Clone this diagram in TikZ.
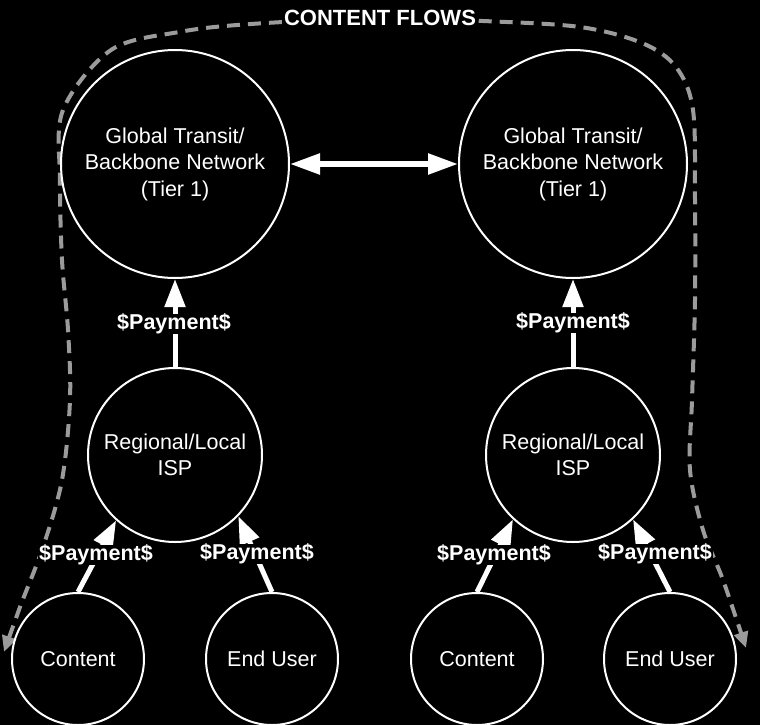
\documentclass[tikz,border=0pt]{standalone}
\usepackage{fontspec}
\setmainfont{Liberation Sans}
\usetikzlibrary{arrows.meta}
\definecolor{flowgray}{RGB}{155,155,155}
\begin{document}
\begin{tikzpicture}[x=1pt,y=-1pt,
  bignode/.style={circle,draw=white,line width=2pt,minimum size=228pt,inner sep=0pt,text=white,align=center,font=\fontsize{21.5}{26.5}\selectfont},
  regnode/.style={circle,draw=white,line width=2pt,minimum size=174pt,inner sep=0pt,text=white,align=center,font=\fontsize{21.5}{26.5}\selectfont},
  smallnode/.style={circle,draw=white,line width=2pt,minimum size=132pt,inner sep=0pt,text=white,align=center,font=\fontsize{21.5}{26.5}\selectfont},
  pay/.style={draw=white,line width=5pt,-{Triangle[width=20pt,length=28pt]}},
  paylabel/.style={fill=black,text=white,inner xsep=1pt,inner ysep=0pt,font=\fontsize{21.5}{24}\selectfont\bfseries},
  peer/.style={draw=white,line width=5.5pt,{Triangle[width=20pt,length=30pt]}-{Triangle[width=20pt,length=30pt]}},
  flow/.style={draw=flowgray,line width=4pt,dash pattern=on 13pt off 8pt,{Triangle[width=14pt,length=16pt]}-{Triangle[width=14pt,length=16pt]}},
  flowlabel/.style={fill=black,text=white,inner sep=2pt,font=\fontsize{22}{24}\selectfont\bfseries}
]
\useasboundingbox[fill=black] (0,0) rectangle (760,725);

% content flow curve
\draw[flow] plot[smooth,tension=0.55] coordinates {
  (4,652) (20,607) (43,547) (62,480) (70,400) (68,330) (62,260) (60,180) (63,110)
  (111,50) (179,32) (251,24) (380,18) (483,21) (580,27) (642,43) (676,67) (693,110)
  (695,200) (695,300) (692,400) (690,470) (703,530) (723,580) (746,648)};
\node[flowlabel] (cf) at (380,18) {CONTENT FLOWS};

% nodes
\node[bignode] (g1) at (175,164) {Global Transit/\\Backbone Network\\(Tier 1)};
\node[bignode] (g2) at (573,164) {Global Transit/\\Backbone Network\\(Tier 1)};
\node[regnode] (r1) at (175,455) {Regional/Local\\ISP};
\node[regnode] (r2) at (573,455) {Regional/Local\\ISP};
\node[smallnode] (c1) at (78,659) {Content};
\node[smallnode] (e1) at (272,659) {End User};
\node[smallnode] (c2) at (477,659) {Content};
\node[smallnode] (e2) at (670,659) {End User};

% peering
\draw[peer] (g1) -- (g2);

% payments
\draw[pay] (r1) -- (g1);
\draw[pay] (r2) -- (g2);
\draw[pay] (c1.north) -- (r1.228);
\draw[pay] (e1.north) -- (r1.316);
\draw[pay] (c2.north) -- (r2.227);
\draw[pay] (e2.north) -- (r2.313);

% payment labels
\node[paylabel] (p1) at (174,324) {\$Payment\$};
\node[paylabel] (p2) at (573,323) {\$Payment\$};
\node[paylabel] (p3) at (96,555) {\$Payment\$};
\node[paylabel] (p4) at (257,554) {\$Payment\$};
\node[paylabel] (p5) at (494,555) {\$Payment\$};
\node[paylabel] (p6) at (655,554) {\$Payment\$};
\end{tikzpicture}
\end{document}
